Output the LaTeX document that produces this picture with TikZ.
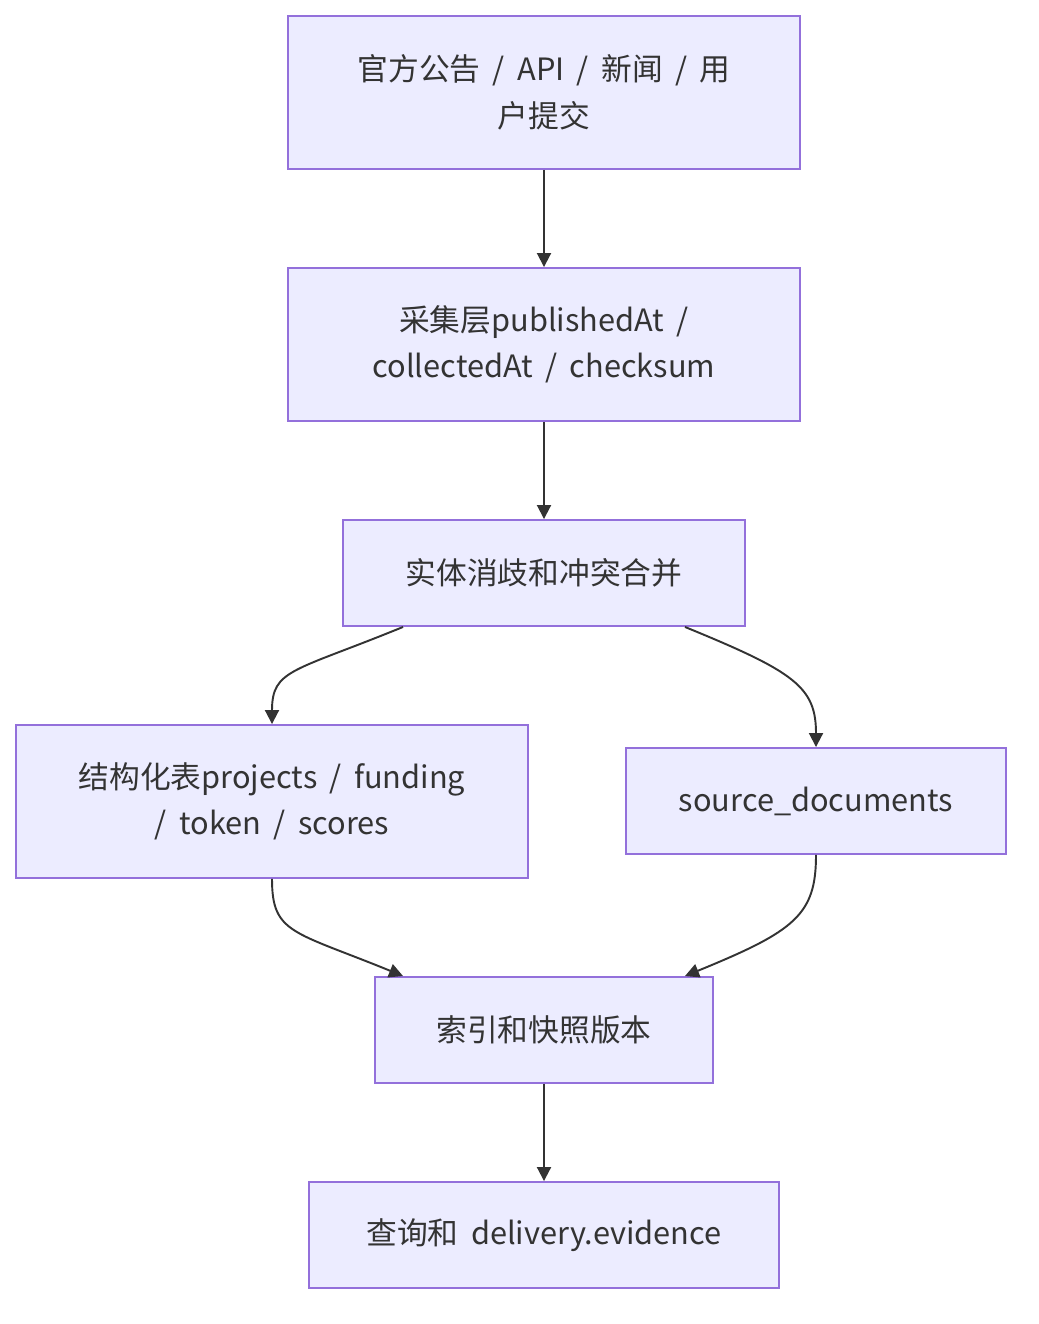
\documentclass[tikz,border=0pt]{standalone}
\usepackage{fontspec}
\setmainfont[WordSpace=1.8]{Noto Sans CJK SC}
\usepackage{xcolor}
\usetikzlibrary{arrows.meta,positioning}

\definecolor{boxfill}{HTML}{ECECFF}
\definecolor{boxline}{HTML}{9370DB}
\definecolor{inkgrey}{HTML}{333333}

\begin{document}
\begin{tikzpicture}[x=0.02cm,y=-0.02cm,
  stage/.style={draw=boxline,fill=boxfill,line width=1.1pt,align=center,
    text=inkgrey,font=\fontsize{17.5}{26.5}\selectfont,inner sep=0pt},
  edge/.style={inkgrey,line width=1.1pt,-{Triangle[length=0.28cm,width=0.28cm]}}
]
\useasboundingbox (0,0) rectangle (1038,1324);
%--- stages ---
\node[stage,minimum width=10.24cm,minimum height=3.06cm] (src) at (544,92.5)
  {官方公告 / API / 新闻 / 用\\户提交};
\node[stage,minimum width=10.24cm,minimum height=3.06cm] (collect) at (544,344.5)
  {采集层publishedAt /\\collectedAt / checksum};
\node[stage,minimum width=8.04cm,minimum height=2.12cm] (merge) at (544,573)
  {实体消歧和冲突合并};
\node[stage,minimum width=10.24cm,minimum height=3.06cm] (tables) at (272,801.5)
  {结构化表projects / funding\\/ token / scores};
\node[stage,minimum width=7.6cm,minimum height=2.12cm] (docs) at (816,801)
  {source\_documents};
\node[stage,minimum width=6.76cm,minimum height=2.12cm] (index) at (544,1030)
  {索引和快照版本};
\node[stage,minimum width=9.4cm,minimum height=2.12cm] (query) at (544,1235)
  {查询和 delivery.evidence};
%--- straight links ---
\draw[edge] (src) -- (collect);
\draw[edge] (collect) -- (merge);
\draw[edge] (index) -- (query);
% split
\draw[edge] ([xshift=-2.82cm]merge.south) .. controls +(-110,45) and +(0,-55) .. (tables.north);
\draw[edge] ([xshift=2.82cm]merge.south) .. controls +(110,45) and +(0,-60) .. (docs.north);
% join
\draw[edge] (tables.south) .. controls +(0,55) and +(-110,-45) .. ([xshift=-2.82cm]index.north);
\draw[edge] (docs.south) .. controls +(0,60) and +(110,-45) .. ([xshift=2.82cm]index.north);
\end{tikzpicture}
\end{document}
